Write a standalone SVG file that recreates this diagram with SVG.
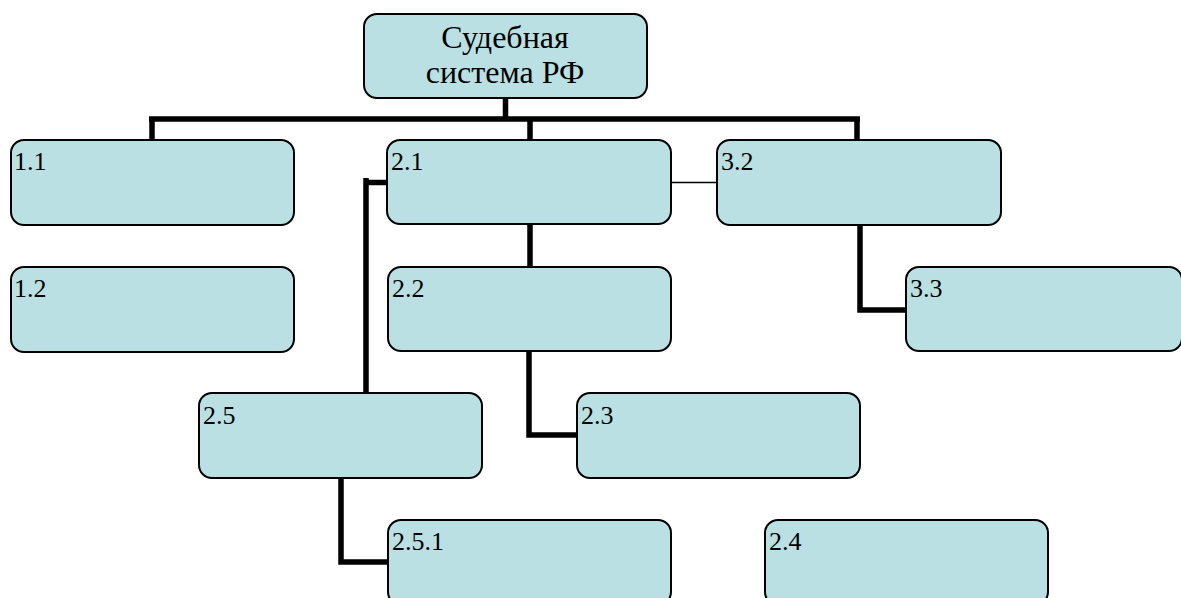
<svg xmlns="http://www.w3.org/2000/svg" width="1181" height="598" viewBox="0 0 1181 598">
<style>
.box{fill:#bae0e3;stroke:#000;stroke-width:2}
.lbl{font-family:"Liberation Serif","Times New Roman",serif;font-size:26px;fill:#000}
.title{font-family:"Liberation Serif","Times New Roman",serif;font-size:32px;fill:#000;text-anchor:middle}
.thick{fill:none;stroke:#000;stroke-width:5.5}
.thin{fill:none;stroke:#000;stroke-width:1.5}
</style>
<rect width="1181" height="598" fill="#fff"/>
<g id="connectors">
<path class="thick" d="M505.5,98 V119 M149,119 H860 M152,119 V140 M530,119 V140 M857,119 V140"/>
<path class="thick" d="M530,224 V267"/>
<path class="thick" d="M529,351 V435 H577"/>
<path class="thick" d="M860,225 V310 H906"/>
<path class="thick" d="M366,178 V393 M366,182.5 H387"/>
<path class="thick" d="M341,478 V562 H388"/>
<path class="thin" d="M671,182.5 H717"/>
</g>
<g id="root">
<rect class="box" x="364" y="14" width="283" height="84" rx="13"/>
<text class="title" x="505" y="48">Судебная</text>
<text class="title" x="505" y="83">система РФ</text>
</g>
<g id="n1_1"><rect class="box" x="11" y="140" width="283" height="85" rx="13"/><text class="lbl" x="14" y="170">1.1</text></g>
<g id="n1_2"><rect class="box" x="11" y="267" width="283" height="85" rx="13"/><text class="lbl" x="14" y="297">1.2</text></g>
<g id="n2_1"><rect class="box" x="387" y="140" width="284" height="84" rx="13"/><text class="lbl" x="391" y="170">2.1</text></g>
<g id="n3_2"><rect class="box" x="717" y="140" width="284" height="85" rx="13"/><text class="lbl" x="721" y="170">3.2</text></g>
<g id="n2_2"><rect class="box" x="388" y="267" width="283" height="84" rx="13"/><text class="lbl" x="392" y="297">2.2</text></g>
<g id="n3_3"><rect class="box" x="906" y="267" width="276" height="84" rx="13"/><text class="lbl" x="910" y="297">3.3</text></g>
<g id="n2_5"><rect class="box" x="199" y="393" width="283" height="85" rx="13"/><text class="lbl" x="203" y="424">2.5</text></g>
<g id="n2_3"><rect class="box" x="577" y="393" width="283" height="85" rx="13"/><text class="lbl" x="581" y="424">2.3</text></g>
<g id="n2_5_1"><rect class="box" x="388" y="520" width="283" height="85" rx="13"/><text class="lbl" x="392" y="550">2.5.1</text></g>
<g id="n2_4"><rect class="box" x="765" y="520" width="283" height="85" rx="13"/><text class="lbl" x="769" y="550">2.4</text></g>
</svg>
